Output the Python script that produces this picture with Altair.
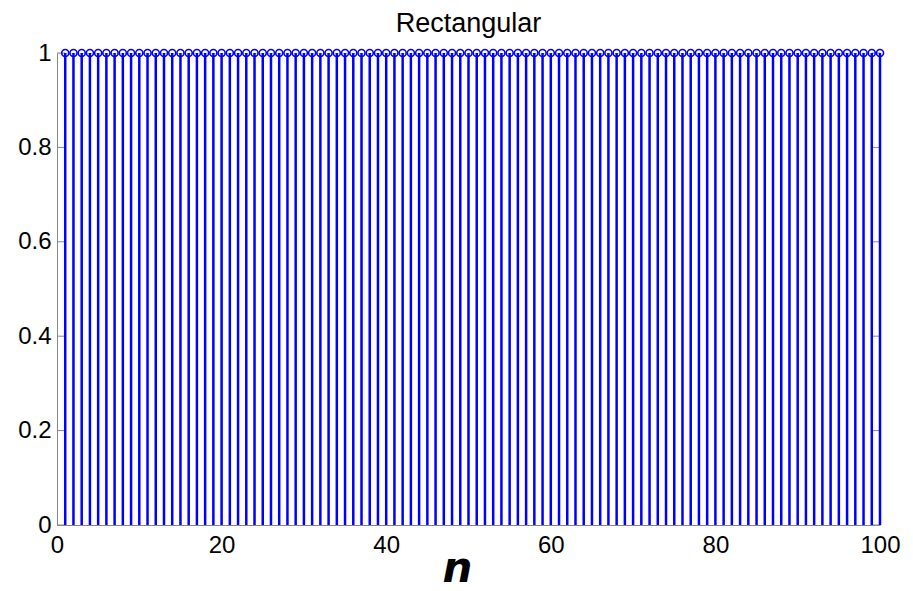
import altair as alt
import pandas as pd

# Rectangular window: w[n] = 1 for n = 1..100
n_values = list(range(1, 101))
w_values = [1] * 100
y_ticks = [0, 0.2, 0.4, 0.6, 0.8, 1]
x_ticks = [0, 20, 40, 60, 80, 100]

df = pd.DataFrame({"n": n_values, "w": w_values})
ticks_df = pd.DataFrame({"t": y_ticks})

BLUE = "#0000ff"
FONT = "Liberation Sans"

x_scale = alt.Scale(domain=[0, 100], nice=False, zero=False)
y_scale = alt.Scale(domain=[0, 1], nice=False)

x_axis = alt.Axis(
    values=x_ticks, title="n", grid=False, ticks=False,
    domainColor="#888888", domainWidth=1,
    labelFont=FONT, labelFontSize=24, labelColor="black", labelPadding=8,
    labelFlush=False,
    titleFont="DejaVu Sans", titleFontSize=42, titleFontWeight="bold",
    titleFontStyle="italic", titleColor="black",
    titleX=400, titleY=56, titleBaseline="alphabetic",
)
y_axis = alt.Axis(
    values=y_ticks, title=None, grid=False, ticks=False, format="~g",
    domainColor="#888888", domainWidth=1,
    labelFont=FONT, labelFontSize=24, labelColor="black", labelPadding=6,
    labelFlush=False,
)

stems = alt.Chart(df).mark_rule(color=BLUE, strokeWidth=2.5).encode(
    x=alt.X("n:Q", scale=x_scale, axis=x_axis),
    y=alt.Y("w:Q", scale=y_scale, axis=y_axis),
    y2=alt.datum(0),
)

markers = alt.Chart(df).mark_point(
    shape="circle", filled=False, color=BLUE, size=50, strokeWidth=1.6, opacity=1
).encode(
    x=alt.X("n:Q", scale=x_scale),
    y=alt.Y("w:Q", scale=y_scale),
)

# inward tick marks on left and right edges
left_ticks = alt.Chart(ticks_df).mark_rule(color="#888888", strokeWidth=1).encode(
    y=alt.Y("t:Q", scale=y_scale), x=alt.value(0), x2=alt.value(8)
)
right_ticks = alt.Chart(ticks_df).mark_rule(color="#888888", strokeWidth=1).encode(
    y=alt.Y("t:Q", scale=y_scale), x=alt.value(815), x2=alt.value(823)
)

chart = (
    alt.layer(left_ticks, right_ticks, stems, markers)
    .properties(
        width=823,
        height=472,
        title=alt.TitleParams(
            "Rectangular", font=FONT, fontSize=27, fontWeight="normal",
            color="black", offset=3, anchor="middle",
        ),
        autosize=alt.AutoSizeParams(type="none"),
        padding={"left": 57, "top": 53, "right": 33, "bottom": 66},
    )
    .configure_view(stroke=None)
    .configure(background="white")
)

chart.save("out.html", embed_options={"renderer": "svg", "actions": False})
